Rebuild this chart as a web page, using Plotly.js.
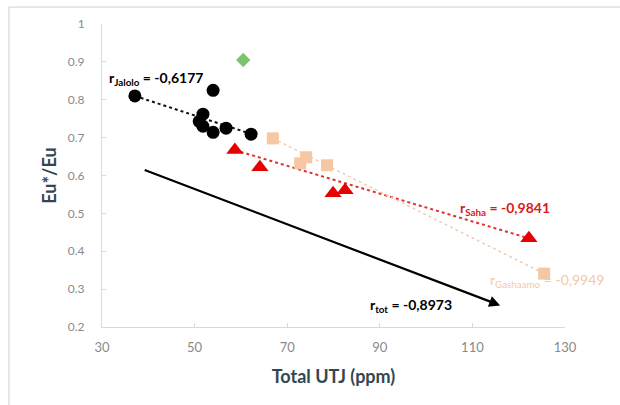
<!DOCTYPE html>
<html>
<head>
<meta charset="utf-8">
<script src="https://cdn.plot.ly/plotly-3.0.1.min.js"></script>
<style>
html,body{margin:0;padding:0;background:#fff;}
#chart{width:620px;height:405px;}
</style>
</head>
<body>
<div id="chart"></div>
<script>
// Data
const jaloloX = [37.1, 54.0, 51.8, 51.0, 51.8, 54.0, 56.8, 62.2];
const jaloloY = [0.810, 0.825, 0.762, 0.743, 0.730, 0.714, 0.725, 0.709];
const outlierX = [60.5];
const outlierY = [0.905];
const sahaX = [58.7, 64.1, 79.9, 82.5, 122.2];
const sahaY = [0.667, 0.622, 0.553, 0.561, 0.434];
const thirdX = [66.9, 72.8, 74.1, 78.6, 125.5];
const thirdY = [0.698, 0.632, 0.648, 0.627, 0.341];

const jaloloTrendX = [37.1, 62.4];
const jaloloTrendY = [0.810, 0.709];
const sahaTrendX = [58.7, 122.2];
const sahaTrendY = [0.667, 0.434];
const thirdTrendX = [66.9, 125.5];
const thirdTrendY = [0.698, 0.341];
const totArrowX = [38.9, 116.0];
const totArrowY = [0.616, 0.257];

const xTicks = [30, 50, 70, 90, 110, 130];
const yTicks = [0.2, 0.3, 0.4, 0.5, 0.6, 0.7, 0.8, 0.9, 1];
const yTickText = ['0.2', '0.3', '0.4', '0.5', '0.6', '0.7', '0.8', '0.9', '1'];

const labelJalolo = '<b>r<sub>Jalolo</sub> = -0,6177</b>';
const labelSaha = '<b>r<sub>Saha</sub> = -0,9841</b>';
const labelThird = 'r<sub>Gashaamo</sub> = -0,9949';
const labelTot = '<b>r<sub>tot</sub> = -0,8973</b>';

const FONT = 'Lato, "Open Sans", sans-serif';

const traces = [
  {x: jaloloTrendX, y: jaloloTrendY, mode: 'lines', line: {color: '#111', width: 2, dash: 'dot'}, hoverinfo: 'skip'},
  {x: sahaTrendX, y: sahaTrendY, mode: 'lines', line: {color: '#e03030', width: 2, dash: 'dot'}, hoverinfo: 'skip'},
  {x: thirdTrendX, y: thirdTrendY, mode: 'lines', line: {color: '#f3cdb0', width: 1.5, dash: 'dot'}, hoverinfo: 'skip'},
  {x: thirdX, y: thirdY, mode: 'markers', marker: {symbol: 'square', size: 12, color: '#f5c7a2'}},
  {x: sahaX, y: sahaY, mode: 'markers', marker: {symbol: 'triangle-up', size: 15, color: '#e60000'}},
  {x: jaloloX, y: jaloloY, mode: 'markers', marker: {symbol: 'circle', size: 13, color: '#000'}},
  {x: outlierX, y: outlierY, mode: 'markers', marker: {symbol: 'diamond', size: 11, color: '#7cc46a'}}
];

const layout = {
  width: 620, height: 405,
  margin: {l: 102, r: 55, t: 24, b: 78},
  paper_bgcolor: '#fff', plot_bgcolor: '#fff',
  showlegend: false,
  font: {family: FONT},
  xaxis: {
    range: [30, 130], tickvals: xTicks, ticktext: xTicks.map(String),
    showgrid: false, zeroline: false, showline: true, linecolor: '#d9d9d9', linewidth: 1,
    ticks: 'inside', ticklen: 4, tickcolor: '#d9d9d9', ticklabelstandoff: 8,
    tickfont: {size: 13, color: '#8a8a8a', family: FONT},
    title: {text: '<b>Total UTJ (ppm)</b>', font: {size: 18, color: '#34464f', family: FONT}, standoff: 16}
  },
  yaxis: {
    range: [0.2, 1], tickvals: yTicks, ticktext: yTickText,
    showgrid: false, zeroline: false, showline: true, linecolor: '#d9d9d9', linewidth: 1,
    ticks: 'inside', ticklen: 4, tickcolor: '#d9d9d9', ticklabelstandoff: 14,
    tickfont: {size: 12, color: '#8a8a8a', family: FONT},
    title: {text: '<b>Eu*/Eu</b>', font: {size: 18, color: '#34464f', family: FONT}, standoff: 6}
  },
  shapes: [
    {type: 'rect', xref: 'paper', yref: 'paper', x0: -0.201, x1: 1.15, y0: -0.3, y1: 1.056,
     line: {color: '#d0d0d0', width: 1}, fillcolor: 'rgba(0,0,0,0)', layer: 'below'}
  ],
  annotations: [
    {x: totArrowX[1], y: totArrowY[1], ax: totArrowX[0], ay: totArrowY[0], xref: 'x', yref: 'y', axref: 'x', ayref: 'y',
     showarrow: true, arrowhead: 2, arrowsize: 1, arrowwidth: 2.2, arrowcolor: '#000', text: ''},
    {x: 31.1, y: 0.855, xref: 'x', yref: 'y', xanchor: 'left', yanchor: 'middle', showarrow: false,
     text: labelJalolo, font: {size: 14, color: '#000', family: FONT}},
    {x: 106.9, y: 0.513, xref: 'x', yref: 'y', xanchor: 'left', yanchor: 'middle', showarrow: false,
     text: labelSaha, font: {size: 14, color: '#d81a1a', family: FONT}},
    {x: 113.4, y: 0.323, xref: 'x', yref: 'y', xanchor: 'left', yanchor: 'middle', showarrow: false,
     text: labelThird, font: {size: 14, color: '#f3c9a8', family: FONT}},
    {x: 87.5, y: 0.257, xref: 'x', yref: 'y', xanchor: 'left', yanchor: 'middle', showarrow: false,
     text: labelTot, font: {size: 14, color: '#000', family: FONT}}
  ]
};

Plotly.newPlot('chart', traces, layout, {displayModeBar: false, staticPlot: true});
</script>
</body>
</html>
